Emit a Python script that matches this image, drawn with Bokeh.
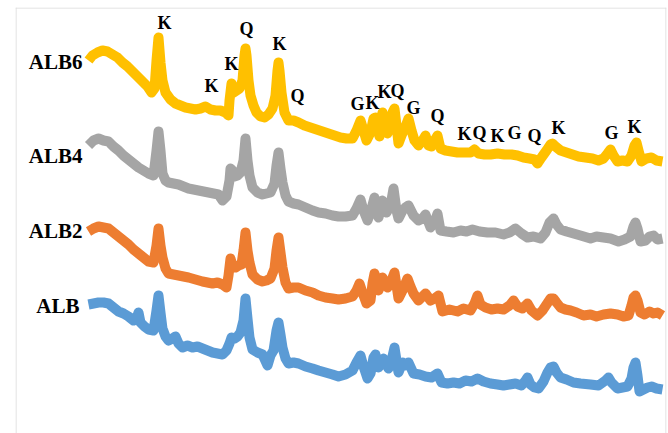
from bokeh.plotting import figure
from bokeh.models import Range1d, ColumnDataSource, Span
from bokeh.core.properties import value
from bokeh.embed import file_html
from bokeh.resources import INLINE

# ---- data: 2-theta (deg) and intensity (a.u.) ----
tt_alb6 = [3.0,3.4,3.9,4.4,4.9,5.4,5.9,6.4,6.9,7.4,7.9,8.4,8.9,9.3,9.6,9.8,10.0,10.2,10.4,10.7,
           11.2,11.7,12.2,12.7,13.2,13.7,14.2,14.7,15.2,15.7,16.2,16.7,17.0,17.1,17.3,17.5,17.8,18.1,18.4,18.6,
           18.7,18.8,19.0,19.2,19.5,19.8,20.2,20.6,21.0,21.4,21.7,21.9,22.0,22.1,22.3,22.6,23.0,23.5,24.0,24.6,
           25.2,25.8,26.4,27.0,27.6,28.2,28.8,29.4,29.8,30.2,30.5,30.8,31.2,31.5,31.7,31.9,32.1,32.3,32.4,32.6,
           32.9,33.2,33.4,33.6,33.8,34.0,34.3,34.7,35.0,35.3,35.6,36.0,36.4,36.7,37.0,37.3,37.6,37.9,38.2,38.7,
           39.3,39.9,40.6,41.2,41.6,42.0,42.6,43.2,43.9,44.6,45.3,45.9,46.5,47.1,47.6,47.9,48.3,48.8,49.2,49.4,
           49.7,50.2,50.8,51.4,52.0,52.7,53.4,54.0,54.5,54.9,55.2,55.5,55.9,56.4,56.9,57.3,57.6,57.8,58.0,58.3,
           58.8,59.3,59.8,60.4]
i_alb6 = [133,138,141,143,142,139,136,131,127,122,117,112,107,101,105,133,156,131,113,101,
          94,90,88,86,85,84,85,87,84,83,83,81,78,93,110,101,103,105,113,138,
          145,138,113,98,88,81,77,76,79,85,98,123,131,123,101,81,73,73,71,68,
          66,64,62,60,58,56,55,55,63,73,63,53,61,75,76,65,57,75,81,71,
          60,68,81,85,68,50,58,67,75,63,53,48,53,58,48,47,53,58,45,43,
          42,41,41,41,44,40,39,39,40,39,39,38,36,35,34,30,36,43,49,50,
          47,43,41,39,37,36,35,33,35,40,44,38,32,33,32,38,48,51,43,32,
          35,36,33,32]

tt_alb4 = [3.0,3.5,4.0,4.5,5.0,5.5,6.0,6.5,7.0,7.5,8.0,8.5,9.0,9.5,9.8,10.0,10.2,10.4,10.7,11.0,
           11.5,12.0,12.5,13.0,13.5,14.0,14.5,15.0,15.5,16.0,16.4,16.8,17.1,17.2,17.4,17.6,17.9,18.2,18.5,18.7,
           18.9,19.1,19.4,19.9,20.4,20.8,21.2,21.6,21.8,22.0,22.2,22.4,22.7,23.0,23.5,24.0,24.7,25.4,26.0,26.7,
           27.4,28.0,28.7,29.4,29.8,30.2,30.5,30.9,31.2,31.6,32.0,32.4,32.8,33.2,33.5,33.8,34.0,34.4,34.7,35.0,
           35.5,36.0,36.4,36.7,37.2,37.6,37.9,38.2,38.8,39.5,40.2,40.8,41.4,42.1,42.9,43.7,44.5,45.1,45.7,46.3,
           46.9,47.5,48.2,48.7,49.1,49.5,49.8,50.2,50.8,51.5,52.2,53.2,53.8,54.5,55.2,56.0,56.6,57.2,57.5,57.7,
           57.9,58.2,58.7,59.1,59.5,59.9,60.4]
i_alb4 = [128,133,135,133,132,127,123,118,114,110,106,103,100,98,123,142,123,100,93,91,
          90,89,87,85,84,83,82,81,80,79,73,77,93,105,103,97,98,101,113,135,
          113,98,86,81,79,80,81,90,108,121,105,91,78,72,70,69,66,63,61,60,
          58,57,57,58,65,74,63,53,61,76,56,73,61,68,85,63,55,63,66,68,
          58,53,55,59,46,51,60,43,42,41,43,42,44,42,41,41,39,41,45,40,
          36,37,35,41,51,55,49,44,42,40,38,35,37,36,35,32,34,37,47,51,
          45,32,33,37,38,34,35]

tt_alb2 = [3.0,3.5,4.0,4.5,5.0,5.5,6.0,6.5,7.0,7.5,8.0,8.5,9.0,9.5,9.8,10.0,10.2,10.4,10.7,11.0,
           11.5,12.0,12.5,13.0,13.7,14.4,14.9,15.4,15.9,16.4,16.8,17.0,17.2,17.4,17.7,18.0,18.3,18.5,18.7,18.9,
           19.1,19.4,19.9,20.4,20.8,21.2,21.6,21.8,22.0,22.2,22.4,22.7,23.0,23.5,24.0,24.7,25.4,26.0,26.7,27.4,
           28.0,28.7,29.4,29.8,30.1,30.4,30.8,31.2,31.4,31.6,32.0,32.4,32.9,33.3,33.6,34.0,34.4,34.9,35.2,35.5,
           36.0,36.4,36.7,37.2,37.6,38.0,38.4,39.1,39.9,40.5,41.2,41.6,41.9,42.2,42.7,43.3,43.9,44.5,45.1,45.5,
           45.9,46.4,46.9,47.3,47.9,48.4,48.8,49.2,49.5,49.8,50.2,50.7,51.2,51.8,52.5,53.2,53.8,54.5,55.2,55.9,
           56.5,57.0,57.3,57.5,57.7,57.9,58.2,58.6,59.1,59.5,59.9,60.4]
i_alb2 = [122,125,127,126,125,121,117,113,109,104,100,96,92,91,108,125,108,96,85,80,
          79,78,77,76,74,72,71,70,71,69,66,78,95,88,86,88,89,103,121,103,
          91,79,74,72,73,75,85,103,116,101,86,71,65,66,66,63,61,58,56,55,
          54,55,57,63,70,61,50,53,70,80,63,76,66,73,81,55,63,75,67,60,
          53,57,60,53,55,58,42,44,42,45,43,50,58,49,46,44,45,44,48,53,
          47,45,50,43,38,43,49,55,55,51,46,44,43,41,38,39,37,39,40,39,
          37,38,48,56,58,53,41,39,42,40,41,38]

tt_alb = [3.0,3.5,4.0,4.5,5.0,5.5,6.0,6.5,7.0,7.5,7.8,8.0,8.2,8.6,9.0,9.5,9.8,10.0,10.2,10.4,
          10.7,11.0,11.4,11.7,12.0,12.4,12.9,13.4,13.9,14.4,14.9,15.4,15.9,16.4,16.8,17.1,17.3,17.6,17.9,18.2,
          18.5,18.7,18.9,19.1,19.4,19.9,20.4,20.9,21.2,21.5,21.8,22.0,22.2,22.4,22.7,23.0,23.5,24.0,24.7,25.4,
          26.0,26.7,27.4,28.0,28.7,29.4,29.8,30.2,30.5,30.9,31.2,31.5,31.7,32.0,32.5,33.0,33.3,33.6,33.8,34.0,
          34.4,34.7,35.0,35.5,36.1,36.7,37.3,37.9,38.3,38.9,39.5,40.1,40.7,41.3,41.9,42.5,43.2,43.9,44.5,45.1,
          45.7,46.3,46.7,46.9,47.2,47.6,48.0,48.5,48.9,49.2,49.5,49.8,50.2,50.8,51.5,52.2,53.2,54.0,54.7,55.0,
          55.3,55.9,56.4,56.9,57.3,57.5,57.7,57.9,58.1,58.5,58.9,59.3,59.8,60.4]
i_alb = [129,130,131,131,130,126,122,120,117,113,115,121,111,107,104,103,123,138,121,105,
         97,93,95,97,90,86,88,86,87,85,83,81,80,79,83,90,96,95,97,101,
         113,135,115,96,84,81,79,68,78,83,103,111,99,86,75,70,71,70,67,65,
         63,61,59,57,59,63,71,78,67,55,60,76,79,66,75,65,73,86,73,61,
         71,68,71,60,59,57,56,60,51,50,51,50,53,52,55,52,50,49,48,49,
         50,48,53,56,49,46,45,52,61,66,67,61,56,54,51,50,49,48,53,56,
         51,45,46,47,55,66,71,58,42,44,46,47,45,44]

series_names = ["ALB", "ALB2", "ALB4", "ALB6"]
series_offsets = [0, 80, 160, 240]
series_label_level = [128, 123, 118, 132]

peak_letters = ["K","K","K","Q","K","Q","G","K","K","Q","G","Q","K","Q","K","G","Q","K","G","K"]
peak_tt = [10.6,15.3,17.3,18.8,22.1,23.9,29.9,31.4,32.6,33.9,35.5,37.9,40.6,42.1,43.9,45.6,47.6,50.0,55.3,57.6]
peak_label_level = [171,108,130,165,150,98,90,91,102,103,86,78,60,61,58,61,58,66,61,67]

colors = ["#5B9BD5", "#ED7D31", "#A5A5A5", "#FFC000"]

X0, X1, Y0, Y1 = -4.3, 60.8, 0, 426
p = figure(width=668, height=433, output_backend="svg", toolbar_location=None,
           x_range=Range1d(X0, X1), y_range=Range1d(Y0, Y1),
           x_axis_location=None, y_axis_location=None,
           min_border_left=15, min_border_right=2, min_border_top=7, min_border_bottom=0)
p.grid.visible = False
p.outline_line_color = None
p.background_fill_color = "white"
p.border_fill_color = "white"

# chart-area border (left, top, right; bottom is cut off in the original)
for loc, dim in [(X0 + 0.05, "height"), (X1 - 0.05, "height"), (Y1 - 0.5, "width")]:
    p.add_layout(Span(location=loc, dimension=dim, line_color="#D9D9D9", line_width=1))

traces = [(tt_alb, i_alb), (tt_alb2, i_alb2), (tt_alb4, i_alb4), (tt_alb6, i_alb6)]
for k in [3, 2, 1, 0]:
    tt, ii = traces[k]
    ys = [v + series_offsets[k] for v in ii]
    p.line(tt, ys, line_color=colors[k], line_width=10, line_join="round", line_cap="butt")

# series labels
label_x = [2.1, 2.4, 2.4, 2.4]
src_s = ColumnDataSource(dict(x=label_x,
                              y=[series_label_level[k] + series_offsets[k] for k in range(4)],
                              t=series_names))
p.text(x="x", y="y", text="t", source=src_s, text_align="right", text_baseline="middle",
       text_font=value("Liberation Serif"), text_font_style="bold", text_font_size="21px",
       text_color="#000000")

# peak labels (on ALB6)
src_p = ColumnDataSource(dict(x=peak_tt, y=[v + series_offsets[3] for v in peak_label_level],
                              t=peak_letters))
p.text(x="x", y="y", text="t", source=src_p, text_align="center", text_baseline="middle",
       text_font=value("Liberation Serif"), text_font_style="bold", text_font_size="18px",
       text_color="#000000")

open("out.html", "w").write(file_html(p, INLINE))
